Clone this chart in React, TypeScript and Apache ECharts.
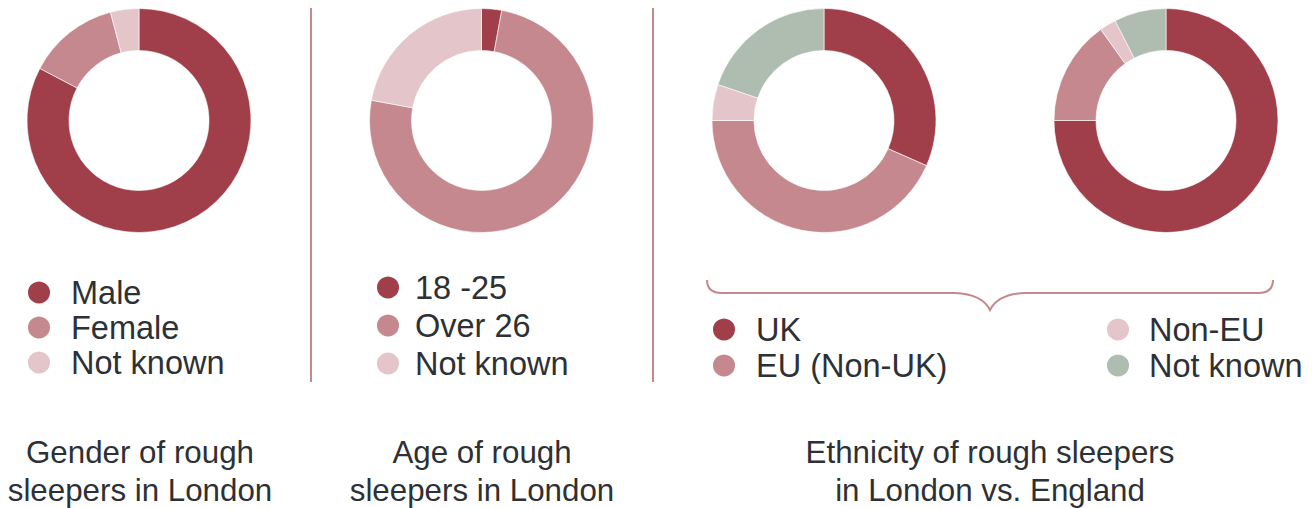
import React, { useEffect, useRef } from "react";
import * as echarts from "echarts";

const DARK = "#a03f4a";
const MID = "#c4888e";
const LIGHT = "#e3c5ca";
const GREEN = "#afbdb1";
const TEXT = "#2d3136";
const FONT = "'Liberation Sans', Arial, sans-serif";

const genderNames = ["Male", "Female", "Not known"];
const genderValues = [82.7, 13.2, 4.1];
const genderColors = [DARK, MID, LIGHT];

const ageNames = ["18 -25", "Over 26", "Not known"];
const ageValues = [2.9, 75.0, 22.1];
const ageColors = [DARK, MID, LIGHT];

const ethNames = ["UK", "EU (Non-UK)", "Non-EU", "Not known"];
const ethLondonValues = [31.6, 43.4, 5.2, 19.8];
const ethEnglandValues = [75.0, 15.1, 2.4, 7.5];
const ethColors = [DARK, MID, LIGHT, GREEN];

const titles = [
  "Gender of rough\nsleepers in London",
  "Age of rough\nsleepers in London",
  "Ethnicity of rough sleepers\nin London vs. England",
];

echarts.graphic.registerShape(
  "brace",
  echarts.graphic.extendPath(
    "M707,280 Q707,293 722,293 L955,293 Q982,294 990,310 Q998,294 1025,293 L1258,293 Q1273,293 1273,280",
    {}
  )
);

function pie(names: string[], values: number[], colors: string[], cx: number) {
  return {
    type: "pie",
    center: [cx, 120.5],
    radius: [70, 112],
    startAngle: 90,
    clockwise: true,
    silent: true,
    label: { show: false },
    labelLine: { show: false },
    emphasis: { disabled: true },
    itemStyle: { borderColor: "#ffffff", borderWidth: 0.6 },
    data: names.map((n, i) => ({ name: n, value: values[i], itemStyle: { color: colors[i] } })),
  };
}

function legend(names: string[], colors: string[], left: number, top: number, gap: number, pad: number) {
  return {
    orient: "vertical",
    left,
    top,
    padding: 0,
    itemGap: gap,
    itemWidth: 24,
    itemHeight: 24,
    icon: "circle",
    selectedMode: false,
    textStyle: { color: TEXT, fontSize: 32.5, fontFamily: FONT, lineHeight: 32, padding: [0, 0, 0, pad] },
    data: names.map((n, i) => ({ name: n, itemStyle: { color: colors[i] } })),
  };
}

export default function App() {
  const ref = useRef<HTMLDivElement>(null);
  useEffect(() => {
    const chart = echarts.init(ref.current!, null, { renderer: "svg" });
    chart.setOption({
      animation: false,
      backgroundColor: "#ffffff",
      title: [
        { text: titles[0], left: 140, top: 433 },
        { text: titles[1], left: 482, top: 433 },
        { text: titles[2], left: 990, top: 433 },
      ].map((t) => ({
        ...t,
        textAlign: "center",
        padding: 0,
        textStyle: { color: TEXT, fontSize: 31.3, fontWeight: "normal", fontFamily: FONT, lineHeight: 38 },
      })),
      legend: [
        legend(genderNames, genderColors, 26, 276, 2, 15),
        legend(ageNames, ageColors, 375, 271, 5, 10),
        legend(ethNames.slice(0, 2), ethColors.slice(0, 2), 711, 313, 3, 15),
        legend(ethNames.slice(2), ethColors.slice(2), 1105, 313, 3, 14),
      ],
      graphic: [
        { type: "line", shape: { x1: 311, y1: 8, x2: 311, y2: 382 }, style: { stroke: MID, lineWidth: 2 } },
        { type: "line", shape: { x1: 653, y1: 8, x2: 653, y2: 382 }, style: { stroke: MID, lineWidth: 2 } },
        { type: "brace", x: 0, y: 0, style: { stroke: MID, fill: "none", lineWidth: 2 } },
      ],
      series: [
        pie(genderNames, genderValues, genderColors, 139),
        pie(ageNames, ageValues, ageColors, 481.5),
        pie(ethNames, ethLondonValues, ethColors, 824),
        pie(ethNames, ethEnglandValues, ethColors, 1166),
      ],
    });
    return () => chart.dispose();
  }, []);
  return (
    <div
      ref={ref}
      style={{ position: "absolute", left: 0, top: 0, width: 1314, height: 508, background: "#fff" }}
    />
  );
}
